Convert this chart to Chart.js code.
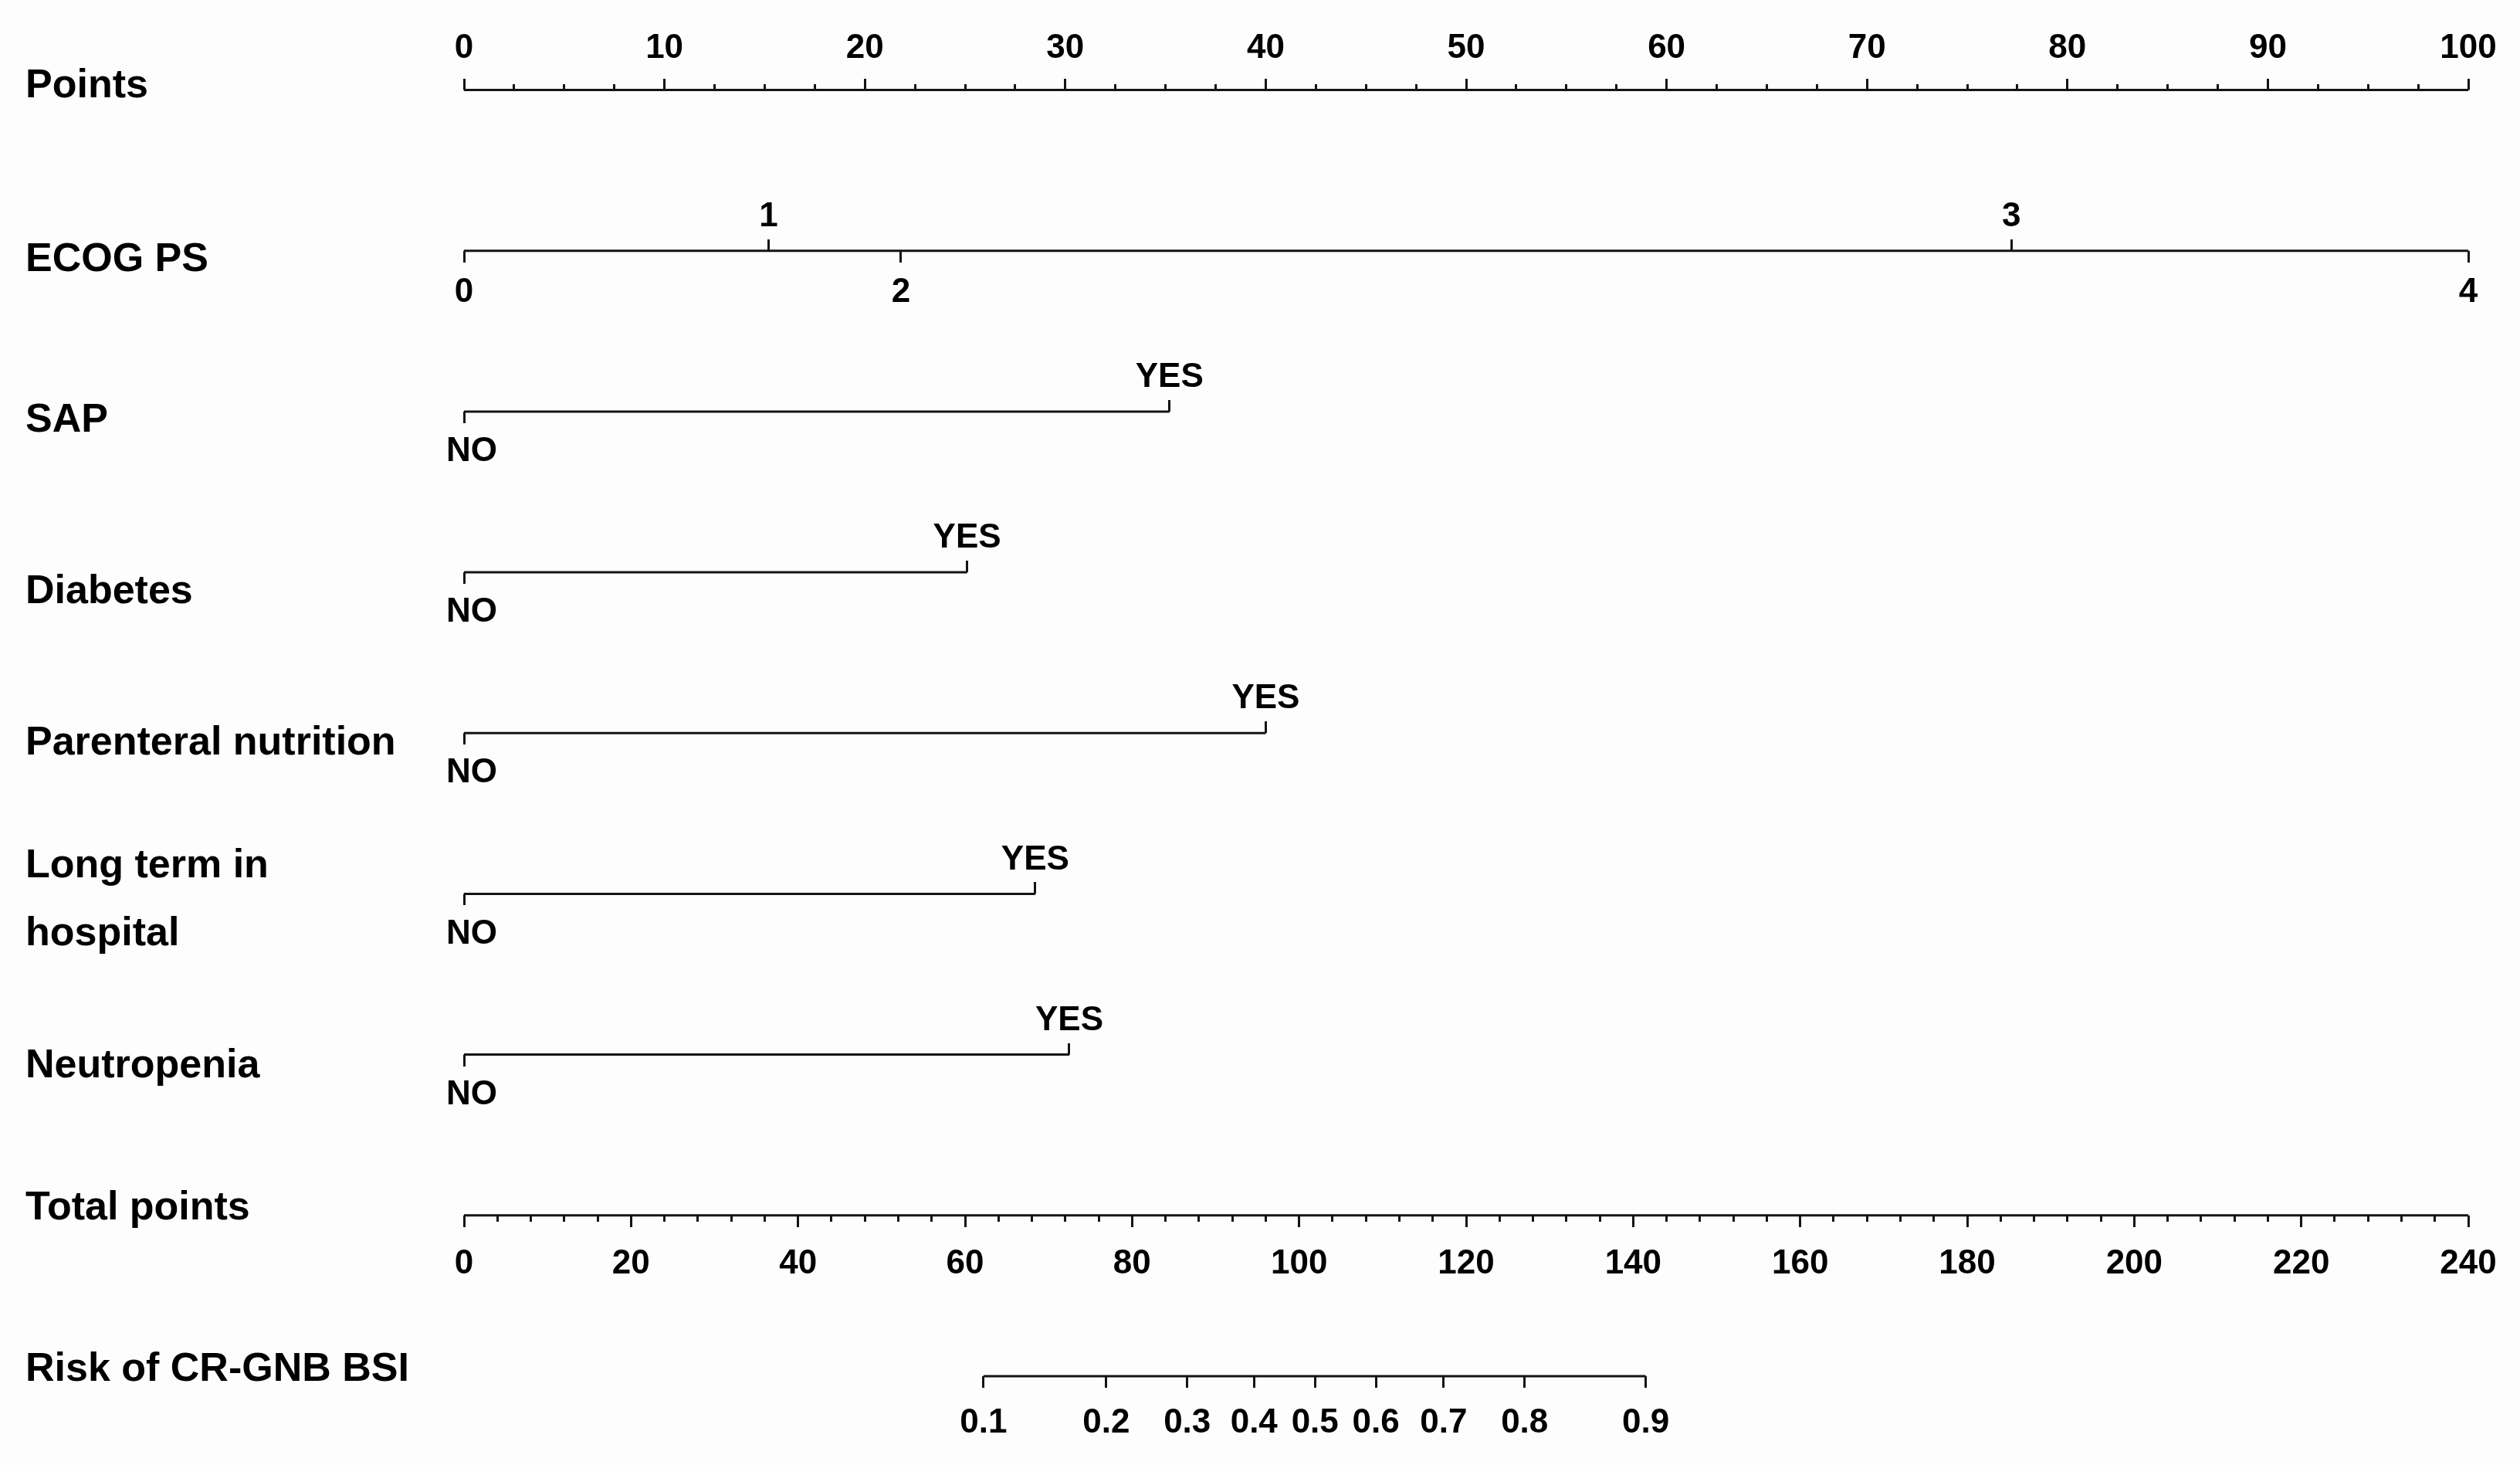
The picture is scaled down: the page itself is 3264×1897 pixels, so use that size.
<!DOCTYPE html>
<html>
<head>
<meta charset="utf-8">
<title>Nomogram - Risk of CR-GNB BSI</title>
<script src="https://cdn.jsdelivr.net/npm/chart.js@4.4.1/dist/chart.umd.min.js"></script>
<style>
  html, body { margin: 0; padding: 0; background: #fdfdfd; overflow: hidden; }
  #wrap { width: 3264px; height: 1897px; position: relative; }
</style>
</head>
<body>
<div id="wrap"><canvas id="nomogram"></canvas></div>
<script>
const pointsTicks = [0, 10, 20, 30, 40, 50, 60, 70, 80, 90, 100];
const ecogLevels = ['0', '1', '2', '3', '4'];
const ecogPoints = [0, 15.2, 21.8, 77.2, 100];
const binaryNames = ['SAP', 'Diabetes', 'Parenteral nutrition', ['Long term in', 'hospital'], 'Neutropenia'];
const binaryLevels = ['NO', 'YES'];
const yesPoints = [35.2, 25.1, 40.0, 28.5, 30.2];
const totalTicks = [0, 20, 40, 60, 80, 100, 120, 140, 160, 180, 200, 220, 240];
const riskLabels = ['0.1', '0.2', '0.3', '0.4', '0.5', '0.6', '0.7', '0.8', '0.9'];
const riskTotalPoints = [62.2, 76.9, 86.6, 94.6, 101.9, 109.2, 117.3, 127.0, 141.5];

const rowNames = ['Points', 'ECOG PS', ...binaryNames, 'Total points', 'Risk of CR-GNB BSI'];

// layout only: px per row and small vertical nudges of the row names
const ROW_PX = 208.2;
const nameNudge = [-5, 12, 12, 26, 13, 8, 15, -9, -8];

const FONT = '"Liberation Sans", Arial, Helvetica, sans-serif';
const INK = '#141414';

function tickMark(len, dir) {
    const c = document.createElement('canvas');
    c.width = 3;
    c.height = len * 2;
    const g = c.getContext('2d');
    g.fillStyle = INK;
    g.fillRect(0, dir < 0 ? 0 : len, 3, len);
    return c;
}

const MAJOR_UP = tickMark(15, -1);
const MAJOR_DOWN = tickMark(15, 1);
const MINOR_UP = tickMark(8, -1);
const MINOR_DOWN = tickMark(8, 1);

function between(majors, parts) {
    const out = [];
    for (let i = 0; i < majors.length - 1; i++) {
        const step = (majors[i + 1] - majors[i]) / parts;
        for (let k = 1; k < parts; k++) out.push(majors[i] + k * step);
    }
    return out;
}

function rowLine(xs, row, axis) {
    return {
        data: [{ x: Math.min(...xs), y: row }, { x: Math.max(...xs), y: row }],
        xAxisID: axis,
        showLine: true,
        borderColor: INK,
        borderWidth: 3,
        pointRadius: 0,
        clip: false
    };
}

function tickSet(xs, row, axis, mark, labels, dy, dx) {
    return {
        data: xs.map(x => ({ x: x, y: row })),
        xAxisID: axis,
        showLine: false,
        pointStyle: mark,
        pointRadius: 4,
        clip: false,
        tickLabels: labels || null,
        labelDy: dy || 0,
        labelDx: dx || 0
    };
}

const datasets = [];

datasets.push(rowLine(pointsTicks, 0, 'x'));
datasets.push(tickSet(pointsTicks, 0, 'x', MAJOR_UP, pointsTicks.map(String), -54));
datasets.push(tickSet(between(pointsTicks, 4), 0, 'x', MINOR_UP));

const ecogUp = [1, 3];
const ecogDown = [0, 2, 4];
datasets.push(rowLine(ecogPoints, 1, 'x'));
datasets.push(tickSet(ecogUp.map(i => ecogPoints[i]), 1, 'x', MAJOR_UP, ecogUp.map(i => ecogLevels[i]), -44));
datasets.push(tickSet(ecogDown.map(i => ecogPoints[i]), 1, 'x', MAJOR_DOWN, ecogDown.map(i => ecogLevels[i]), 54));

yesPoints.forEach((yes, i) => {
    const row = 2 + i;
    datasets.push(rowLine([0, yes], row, 'x'));
    datasets.push(tickSet([0], row, 'x', MAJOR_DOWN, [binaryLevels[0]], 52, 10));
    datasets.push(tickSet([yes], row, 'x', MAJOR_UP, [binaryLevels[1]], -44));
});

datasets.push(rowLine(totalTicks, 7, 'xt'));
datasets.push(tickSet(totalTicks, 7, 'xt', MAJOR_DOWN, totalTicks.map(String), 63));
datasets.push(tickSet(between(totalTicks, 5), 7, 'xt', MINOR_DOWN));

datasets.push(rowLine(riskTotalPoints, 8, 'xt'));
datasets.push(tickSet(riskTotalPoints, 8, 'xt', MAJOR_DOWN, riskLabels, 61));

const tickLabelPlugin = {
    id: 'tickLabels',
    afterDatasetsDraw(chart) {
        const ctx = chart.ctx;
        ctx.save();
        ctx.font = 'bold 44px ' + FONT;
        ctx.fillStyle = '#000';
        ctx.textAlign = 'center';
        ctx.textBaseline = 'middle';
        chart.data.datasets.forEach((ds, i) => {
            if (!ds.tickLabels) return;
            const meta = chart.getDatasetMeta(i);
            meta.data.forEach((pt, j) => {
                ctx.fillText(ds.tickLabels[j], pt.x + ds.labelDx, pt.y + ds.labelDy);
            });
        });
        ctx.restore();
    }
};

document.addEventListener('DOMContentLoaded', function () {
    const ctx = document.getElementById('nomogram').getContext('2d');
    new Chart(ctx, {
        type: 'scatter',
        data: { datasets: datasets },
        options: {
            responsive: true,
            maintainAspectRatio: false,
            animation: false,
            events: [],
            layout: { padding: { left: 33, right: 67, top: 12.5, bottom: 11 } },
            plugins: { legend: { display: false }, tooltip: { enabled: false } },
            scales: {
                x: { type: 'linear', min: 0, max: 100, display: false },
                xt: { type: 'linear', axis: 'x', min: 0, max: 240, display: false },
                y: {
                    type: 'linear',
                    min: -0.5,
                    max: 8.5,
                    reverse: true,
                    position: 'left',
                    grid: { display: false },
                    border: { display: false },
                    afterBuildTicks: (scale) => {
                        scale.ticks = rowNames.map((n, i) => ({ value: i + nameNudge[i] / ROW_PX }));
                    },
                    afterFit: (scale) => {
                        scale.width = 568;
                        scale.paddingTop = 0;
                        scale.paddingBottom = 0;
                    },
                    ticks: {
                        autoSkip: false,
                        crossAlign: 'far',
                        color: '#000',
                        font: { family: FONT, size: 52, weight: 'bold', lineHeight: 1.7 },
                        callback: (value, index) => rowNames[index]
                    }
                }
            }
        },
        plugins: [tickLabelPlugin]
    });
});
</script>
</body>
</html>
